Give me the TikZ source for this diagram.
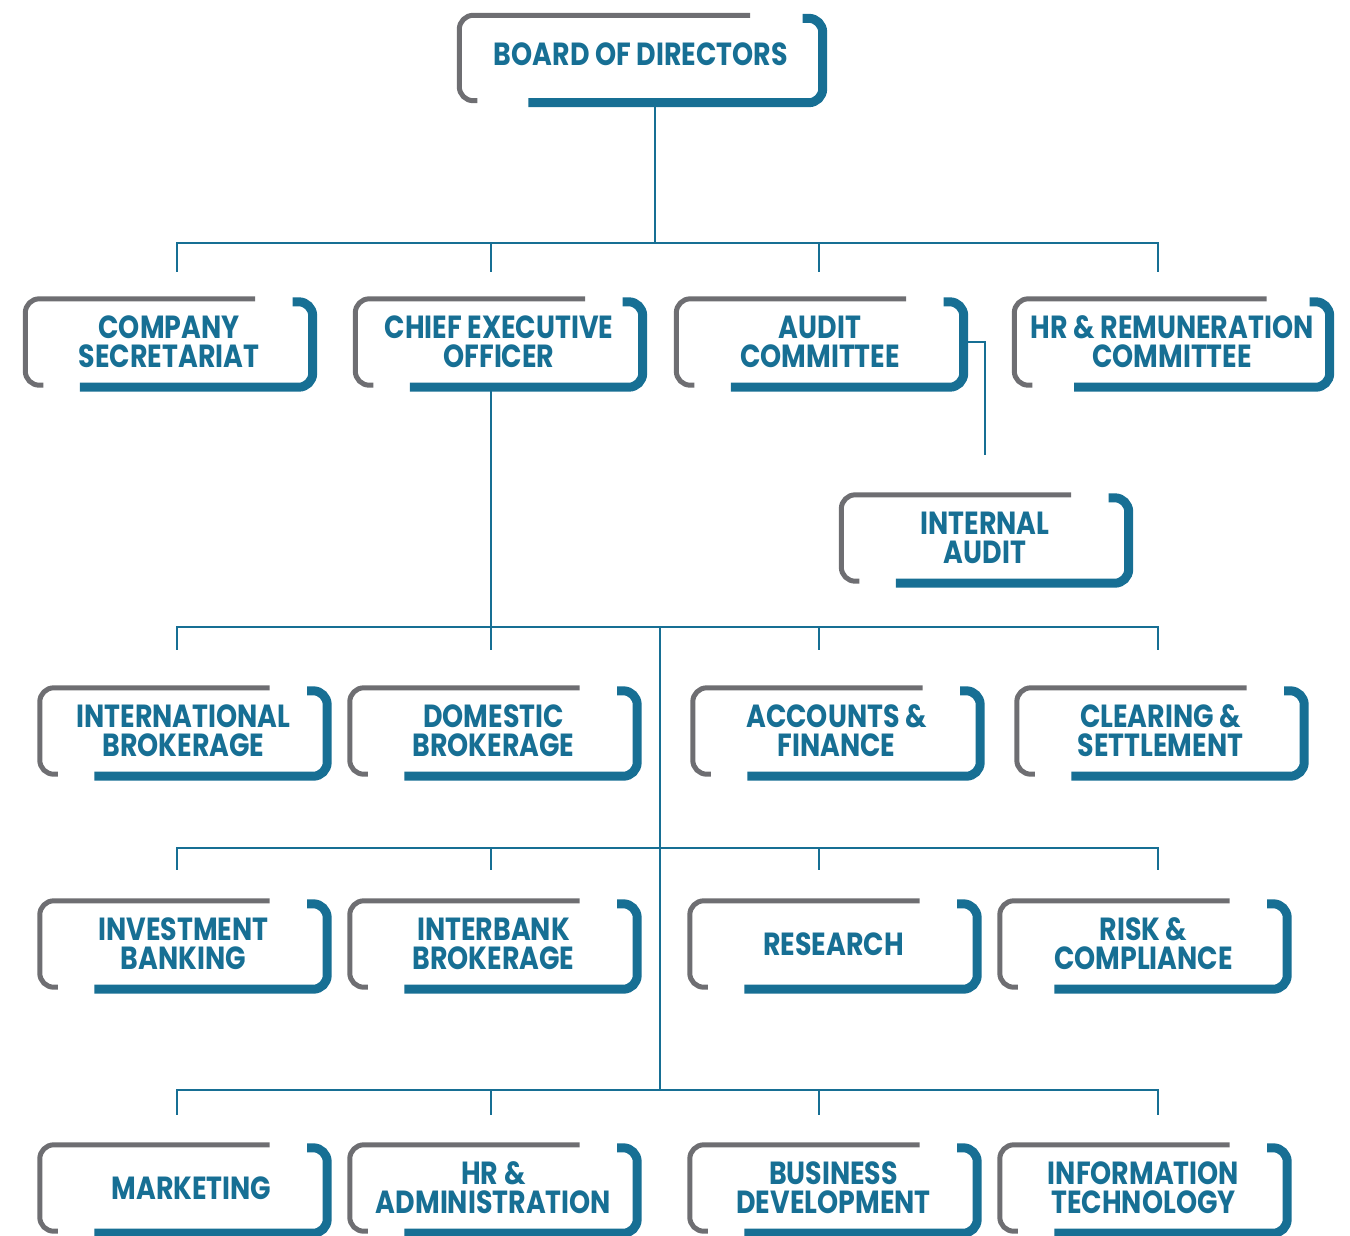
\documentclass[tikz,border=0pt]{standalone}
\usepackage{fontspec}
\setmainfont{Poppins}[FakeStretch=0.84]
\usetikzlibrary{calc}

\definecolor{orgteal}{HTML}{176F94}
\definecolor{orggray}{HTML}{6E6E72}

\tikzset{
  unit/.style={minimum width=287pt, minimum height=86pt, inner sep=0pt,
    align=center, text=orgteal, font=\bfseries\fontsize{32}{29}\selectfont},
  link/.style={orgteal, line width=2pt},
}

% gray bracket top left, teal bracket bottom right
\newcommand{\frameunit}[1]{%
  \draw [orggray, line width=5pt, rounded corners=14pt]
    ($(#1.north west)!0.8!(#1.north east)$) -- (#1.north west)
    -- (#1.south west) -- ++(18,0);
  \draw [orgteal, line width=9pt, rounded corners=14pt]
    ($(#1.north east)+(-20,3)$) -- ($(#1.north east)+(0,3)$)
    -- ($(#1.south east)+(0,2)$) -- ($(#1.south west)!0.19!(#1.south east)+(0,2)$);
}

\begin{document}
\begin{tikzpicture}[x=1pt, y=-1pt]
  \useasboundingbox (0,0) rectangle (1350,1235);

  % Board
  \node [unit, minimum width=363pt, minimum height=85pt] (board) at (641,58) {\raisebox{7pt}{BOARD OF DIRECTORS}};

  % Committees and CEO
  \node [unit] (sec) at (169,342) {COMPANY\\SECRETARIAT};
  \node [unit] (ceo) at (499,342) {CHIEF EXECUTIVE\\OFFICER};
  \node [unit] (aud) at (820,342) {AUDIT\\COMMITTEE};
  \node [unit, minimum width=315pt] (hrr) at (1172,342) {HR \& REMUNERATION\\COMMITTEE};
  \node [unit] (ia) at (985,538) {INTERNAL\\AUDIT};

  % Departments
  \node [unit] (intl) at (183.5,731) {INTERNATIONAL\\BROKERAGE};
  \node [unit] (dom) at (493.5,731) {DOMESTIC\\BROKERAGE};
  \node [unit] (acc) at (836.5,731) {ACCOUNTS \&\\FINANCE};
  \node [unit] (clr) at (1160.5,731) {CLEARING \&\\SETTLEMENT};

  \node [unit] (inv) at (183.5,944) {INVESTMENT\\BANKING};
  \node [unit] (ibk) at (493.5,944) {INTERBANK\\BROKERAGE};
  \node [unit] (res) at (833.5,944) {RESEARCH};
  \node [unit] (rsk) at (1143.5,944) {RISK \&\\COMPLIANCE};

  \node [unit] (mkt) at (183.5,1188) {\hspace*{16pt}MARKETING};
  \node [unit] (hra) at (493.5,1188) {HR \&\\ADMINISTRATION};
  \node [unit] (bdv) at (833.5,1188) {BUSINESS\\DEVELOPMENT};
  \node [unit] (itc) at (1143.5,1188) {INFORMATION\\TECHNOLOGY};

  % Trunks
  \coordinate (bus0) at (655,243);
  \coordinate (bus1) at (491,627);
  \coordinate (trunk) at (660,627);
  \coordinate (trunkend) at (660,1090);
  \coordinate (iaT) at ($(ia.north)+(0,-40)$);
  \draw [link] (board.south -| bus0) -- (bus0);
  \draw [link] (ceo.south -| bus1) -- (bus1);
  \draw [link] (trunk) -- (trunkend);
  \draw [link] (aud.east) -| (iaT);

  % Buses with ticks
  \foreach \y/\len in {243/29, 627/23, 848/22, 1090/25} {
    \draw [link] (176,\y) -- (1159,\y);
    \foreach \x in {177,491,819,1158}
      \draw [link] (\x,\y) -- ++(0,\len);
  }

  % Frames
  \foreach \n in {board,sec,ceo,aud,hrr,ia,intl,dom,acc,clr,inv,ibk,res,rsk,mkt,hra,bdv,itc} {
    \frameunit{\n}
  }
\end{tikzpicture}
\end{document}
